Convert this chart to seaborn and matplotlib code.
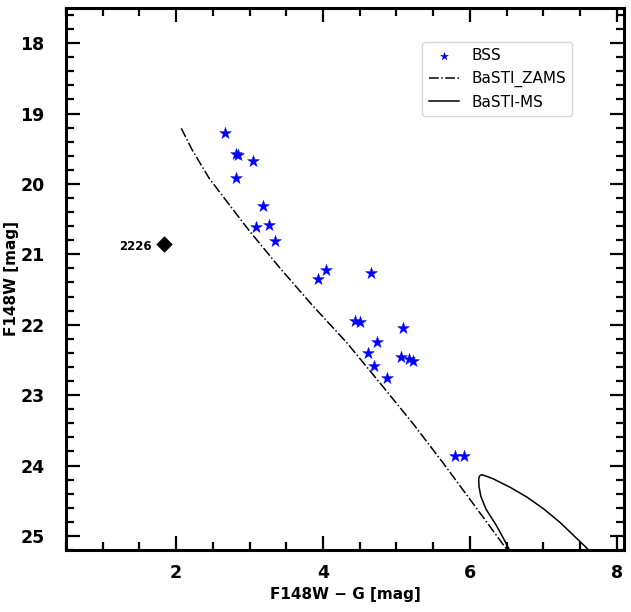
import numpy as np
import pandas as pd
import matplotlib.pyplot as plt
import seaborn as sns
from matplotlib.ticker import MultipleLocator

# BSS candidates: colour (F148W - G) and F148W magnitude
bss_color = [2.67, 2.81, 2.84, 3.05, 2.81, 3.18, 3.09, 3.26, 3.34, 3.93, 4.04, 4.66,
             4.44, 4.51, 5.09, 4.74, 4.61, 4.70, 4.87, 5.06, 5.17, 5.23, 5.80, 5.92]
bss_mag = [19.27, 19.57, 19.59, 19.67, 19.91, 20.32, 20.61, 20.59, 20.81, 21.35, 21.22, 21.26,
           21.95, 21.96, 22.04, 22.25, 22.40, 22.58, 22.76, 22.46, 22.48, 22.52, 23.87, 23.86]

# the odd one out
star_id = "2226"
star_color = 1.84
star_mag = 20.85

# BaSTI zero age main sequence
zams_color = [2.07, 2.22, 2.45, 2.72, 3.00, 3.41, 3.86, 4.32, 4.77, 5.23, 5.64, 6.10, 6.48, 6.60]
zams_mag = [19.21, 19.52, 19.92, 20.29, 20.67, 21.19, 21.73, 22.25, 22.82, 23.41, 23.97, 24.62, 25.16, 25.33]

# BaSTI main sequence isochrone (turn-off hook)
ms_color = [6.57, 6.53, 6.46, 6.36, 6.22, 6.15, 6.125, 6.12, 6.13, 6.16, 6.22, 6.32, 6.55, 6.78,
            7.01, 7.23, 7.46, 7.60, 7.66]
ms_mag = [25.25, 25.18, 25.04, 24.85, 24.62, 24.44, 24.30, 24.20, 24.15, 24.13, 24.15, 24.19, 24.31, 24.45,
          24.62, 24.81, 25.04, 25.18, 25.25]

bss = pd.DataFrame({"color": bss_color, "mag": bss_mag})
zams = pd.DataFrame({"color": zams_color, "mag": zams_mag})
ms = pd.DataFrame({"color": ms_color, "mag": ms_mag})

fig = plt.figure(figsize=(6.31, 6.12), dpi=100)
ax = fig.add_axes([0.1046, 0.1013, 0.8844, 0.8857])

sns.scatterplot(data=bss, x="color", y="mag", marker="*", s=80, color="blue",
                edgecolor="blue", linewidth=0.3, label="BSS", ax=ax)
sns.lineplot(data=zams, x="color", y="mag", sort=False, estimator=None, color="black",
             linestyle="-.", linewidth=1.1, label="BaSTI_ZAMS", ax=ax)
sns.lineplot(data=ms, x="color", y="mag", sort=False, estimator=None, color="black",
             linestyle="-", linewidth=1.1, label="BaSTI-MS", ax=ax)

ax.scatter([star_color], [star_mag], marker="D", s=55, color="black", zorder=3)
ax.annotate(star_id, (star_color, star_mag), xytext=(-9, -2), textcoords="offset points",
            ha="right", va="center", fontsize=8.5, fontweight="bold")

ax.set_xlim(0.5, 8.1)
ax.set_ylim(25.2, 17.5)

ax.xaxis.set_major_locator(MultipleLocator(2))
ax.xaxis.set_minor_locator(MultipleLocator(0.5))
ax.yaxis.set_major_locator(MultipleLocator(1))
ax.yaxis.set_minor_locator(MultipleLocator(0.2))

ax.tick_params(which="both", direction="in", top=True, right=True, width=1.6)
ax.tick_params(which="major", length=10, labelsize=12.5)
ax.tick_params(which="minor", length=5.5)
ax.tick_params(axis="x", which="major", pad=10)
ax.tick_params(axis="y", which="major", pad=15.5)
for lab in ax.get_xticklabels() + ax.get_yticklabels():
    lab.set_fontweight("bold")
for sp in ax.spines.values():
    sp.set_linewidth(2.2)

ax.set_xlabel("F148W \u2212 G [mag]", fontsize=11, fontweight="bold")
ax.set_ylabel("F148W [mag]", fontsize=11, fontweight="bold")
ax.yaxis.set_label_coords(-0.085, 0.5)

ax.legend(loc="upper right", bbox_to_anchor=(0.907, 0.937), borderaxespad=0,
          fontsize=11, markerscale=0.65)

fig.savefig("out.png", dpi=100)
